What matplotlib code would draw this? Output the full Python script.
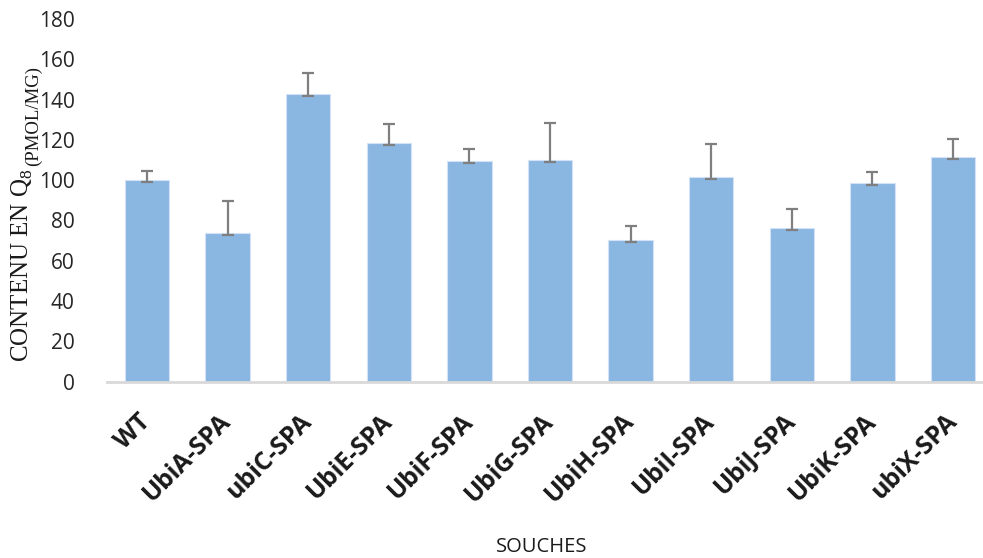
import numpy as np
import matplotlib
matplotlib.use('Agg')
import matplotlib.pyplot as plt

# Données
souches = ['WT', 'UbiA-SPA', 'ubiC-SPA', 'UbiE-SPA', 'UbiF-SPA', 'UbiG-SPA',
           'UbiH-SPA', 'UbiI-SPA', 'UbiJ-SPA', 'UbiK-SPA', 'ubiX-SPA']
contenu_q8 = [100, 73.5, 142.7, 118.3, 109.4, 110, 70.4, 101.3, 76, 98.8, 111.6]
erreur_haut = [4.5, 16, 10.3, 9.5, 6, 18.4, 7, 16.7, 9.8, 5, 9]
erreur_bas = [1, 1, 1, 1, 1, 1, 1, 1, 1, 1, 1]
graduations = [0, 20, 40, 60, 80, 100, 120, 140, 160, 180]

fig = plt.figure(figsize=(9.83, 5.58), dpi=100)
ax = fig.add_axes([0.1085, 0.3163, 0.902, 0.6497])

x = np.arange(len(souches))
ax.bar(x, contenu_q8, width=0.55, color='#8AB6E2', edgecolor='#D3E3F5', linewidth=0.8, zorder=2)
ax.errorbar(x, contenu_q8, yerr=[erreur_bas, erreur_haut], fmt='none', ecolor='#7F7F7F',
            elinewidth=1.6, capsize=4.5, capthick=1.6, zorder=3)

ax.set_xlim(-0.5, len(souches) - 0.5)
ax.set_ylim(0, 180)
ax.set_yticks(graduations)
ax.tick_params(axis='y', length=0, pad=23, labelsize=15, labelcolor='#262626')
ax.tick_params(axis='x', length=0)
for lab in ax.get_yticklabels():
    lab.set_fontfamily('Open Sans')

ax.set_xticks(x)
ax.set_xticklabels(souches, rotation=45, ha='right', va='center', rotation_mode='anchor',
                   fontsize=18, fontweight='bold', fontfamily='Open Sans', color='#1a1a1a')
ax.tick_params(axis='x', pad=26)

for s in ['top', 'right', 'left']:
    ax.spines[s].set_visible(False)
ax.spines['bottom'].set_color('#D9D9D9')
ax.spines['bottom'].set_linewidth(2)

fig.text(0.551, 0.0197, 'SOUCHES', ha='center', va='center', fontsize=14.5,
         fontfamily='Open Sans', color='#1a1a1a')

t1 = fig.text(0.0229, 0.351, r'CONTENU EN Q$_\mathregular{8}$', rotation=90, ha='center', va='bottom',
              fontsize=18, fontfamily='Liberation Serif', color='#1a1a1a')
fig.canvas.draw()
bb = t1.get_window_extent().transformed(fig.transFigure.inverted())
fig.text(0.0340, bb.y1 + 0.004, '(PMOL/MG)', rotation=90, ha='center', va='bottom',
         fontsize=13.5, fontfamily='Liberation Serif', color='#1a1a1a')

fig.savefig('out.png', dpi=100)
